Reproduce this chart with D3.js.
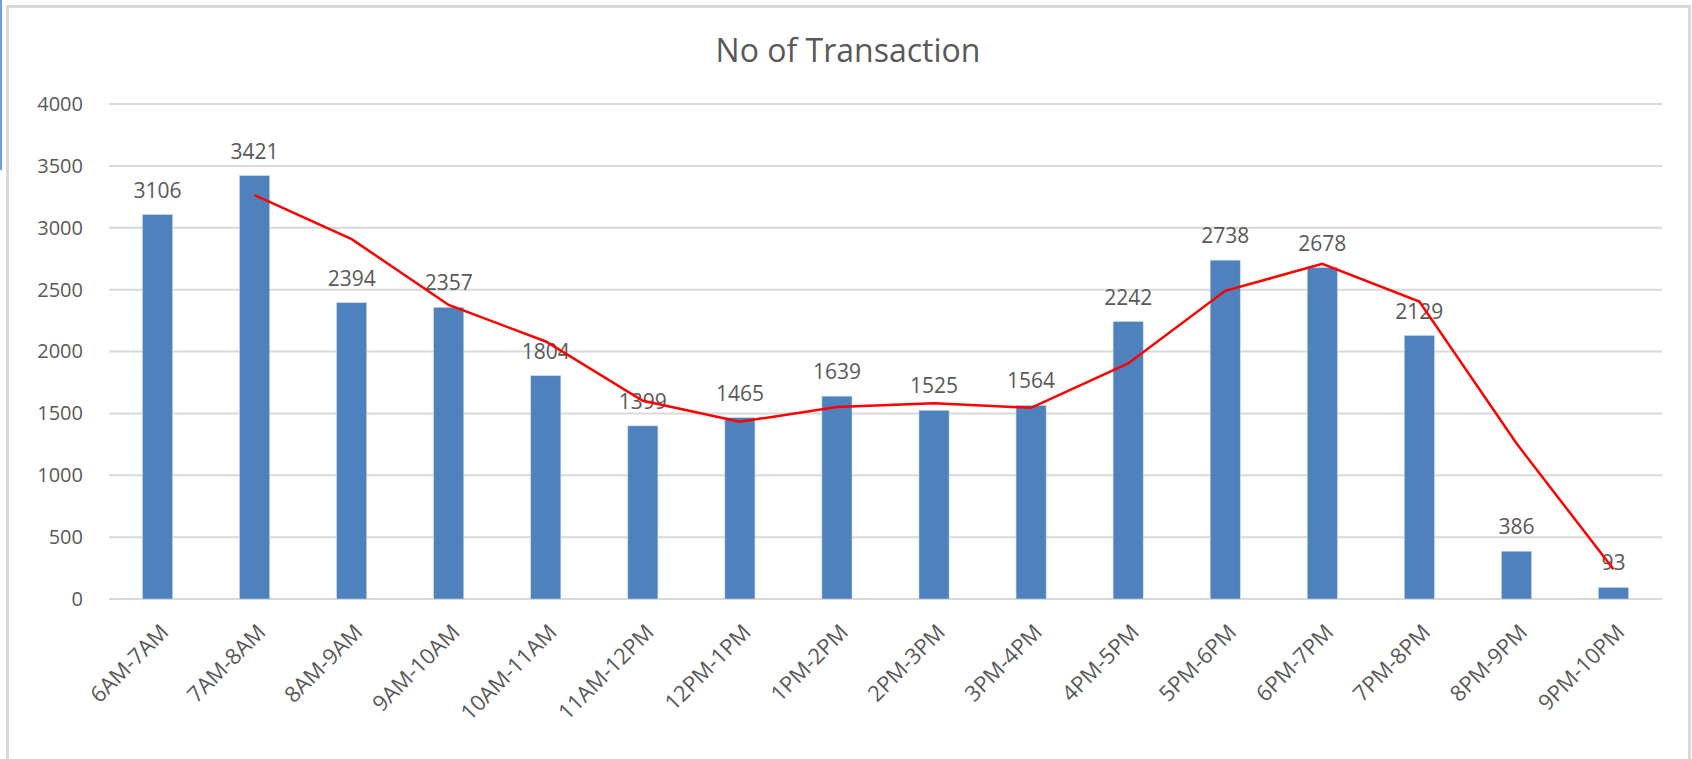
<!DOCTYPE html>
<html lang="en">
<head>
    <meta charset="UTF-8">
    <script src="https://cdn.jsdelivr.net/npm/d3@7"></script>
    <title>No of Transaction</title>
    <style>
        * { margin: 0; padding: 0; box-sizing: border-box; }
        body { width: 1692px; height: 759px; background: white; overflow: hidden; }
        svg text { font-family: "Open Sans", sans-serif; fill: #595959; }
    </style>
</head>
<body>
    <svg width="1692" height="759"></svg>
    <script>
        const slots = ['6AM-7AM', '7AM-8AM', '8AM-9AM', '9AM-10AM', '10AM-11AM', '11AM-12PM',
            '12PM-1PM', '1PM-2PM', '2PM-3PM', '3PM-4PM', '4PM-5PM', '5PM-6PM',
            '6PM-7PM', '7PM-8PM', '8PM-9PM', '9PM-10PM']
        const transactions = [3106, 3421, 2394, 2357, 1804, 1399, 1465, 1639, 1525, 1564,
            2242, 2738, 2678, 2129, 386, 93]
        // red trend line, starts at the second slot
        const trend = [null, 3263, 2908, 2376, 2081, 1602, 1432, 1552, 1582, 1545,
            1903, 2490, 2708, 2404, 1258, 240]
        const yTicks = [0, 500, 1000, 1500, 2000, 2500, 3000, 3500, 4000]

        const svg = d3.select('svg')
        const mLeft = 109, mRight = 1662, mTop = 104, mBottom = 599

        // chart frame
        svg.append('rect')
            .attr('x', 7.5).attr('y', 6.5)
            .attr('width', 1682).attr('height', 780)
            .attr('fill', 'white')
            .attr('stroke', '#d9d9d9').attr('stroke-width', 3)
        svg.append('line')
            .attr('x1', 1).attr('x2', 1).attr('y1', 0).attr('y2', 170)
            .attr('stroke', '#6f9fdc').attr('stroke-width', 2)

        svg.append('text')
            .attr('x', 848).attr('y', 62)
            .attr('text-anchor', 'middle')
            .attr('font-size', 32)
            .text('No of Transaction')

        const x = d3.scaleBand().domain(slots).range([mLeft, mRight]).padding(0)
        const y = d3.scaleLinear().domain([0, 4000]).range([mBottom, mTop])
        const barW = x.bandwidth() * 0.31

        // gridlines
        svg.append('g')
            .selectAll('line')
            .data(yTicks)
            .join('line')
            .attr('x1', mLeft).attr('x2', mRight)
            .attr('y1', d => y(d)).attr('y2', d => y(d))
            .attr('stroke', '#d9d9d9').attr('stroke-width', 2)

        const yAxis = svg.append('g')
            .attr('transform', `translate(${mLeft}, 0)`)
            .call(d3.axisLeft(y).tickValues(yTicks).tickFormat(d3.format('d')).tickSize(0).tickPadding(26))
        yAxis.select('.domain').remove()
        yAxis.selectAll('text').attr('font-size', 20).attr('fill', '#595959')
            .style('font-family', '"Open Sans", sans-serif')

        svg.append('g')
            .selectAll('rect')
            .data(transactions)
            .join('rect')
            .attr('x', (d, i) => x(slots[i]) + (x.bandwidth() - barW) / 2)
            .attr('y', d => y(d))
            .attr('width', barW)
            .attr('height', d => mBottom - y(d))
            .attr('fill', '#4f81bd')
            .attr('stroke', '#c6d6ea').attr('stroke-width', 0.6)

        svg.append('g')
            .selectAll('text')
            .data(transactions)
            .join('text')
            .attr('x', (d, i) => x(slots[i]) + x.bandwidth() / 2)
            .attr('y', d => y(d) - 17)
            .attr('text-anchor', 'middle')
            .attr('font-size', 21)
            .attr('fill', '#404040')
            .text(d => d)

        const line = d3.line()
            .defined(d => d != null)
            .x((d, i) => x(slots[i]) + x.bandwidth() / 2)
            .y(d => y(d))
        svg.append('path')
            .datum(trend)
            .attr('d', line)
            .attr('fill', 'none')
            .attr('stroke', '#ff0000')
            .attr('stroke-width', 2.5)

        const xAxis = svg.append('g')
            .attr('transform', `translate(0, ${mBottom})`)
            .call(d3.axisBottom(x).tickSize(0).tickPadding(0))
        xAxis.select('.domain').remove()
        xAxis.selectAll('text')
            .attr('font-size', 22)
            .attr('fill', '#595959')
            .style('font-family', '"Open Sans", sans-serif')
            .attr('text-anchor', 'end')
            .attr('dy', '0.35em')
            .attr('transform', 'translate(7, 29) rotate(-45)')
    </script>
</body>
</html>
